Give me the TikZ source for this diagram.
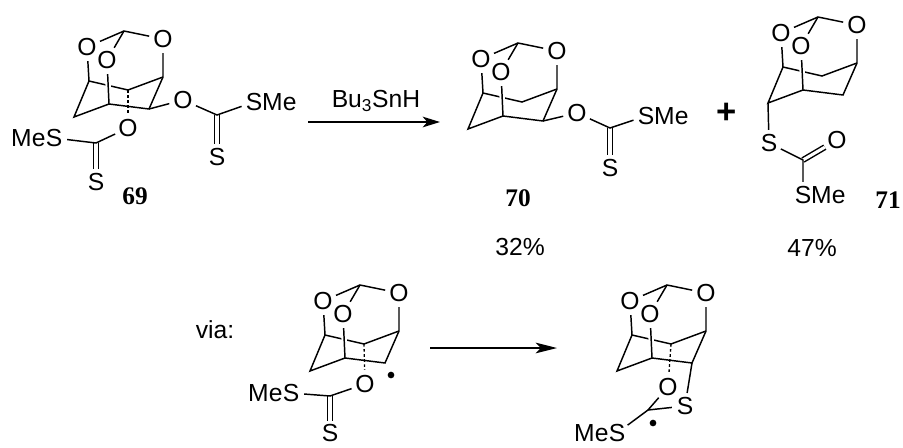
\documentclass[tikz,border=0pt]{standalone}
\usepackage{fontspec}
\usepackage{tikz}
\usetikzlibrary{arrows.meta}
\newfontfamily\sansf{Liberation Sans}
\newfontfamily\seriff{Liberation Serif}

% orthoformate cage: #1 name prefix, #2 shift
\newcommand{\cage}[2]{%
  \begin{scope}[shift={#2}]
    \node[atom] (#1ol) at (87,47) {O};
    \node[atom] (#1om) at (107,60) {O};
    \node[atom] (#1or) at (163,39) {O};
    \coordinate (#1a) at (124,31);
    \coordinate (#1cl) at (89,81);
    \coordinate (#1cb) at (128,90);
    \coordinate (#1cr) at (163,77);
    \coordinate (#1cf) at (109,104);
    \coordinate (#1bl) at (74,117);
    \coordinate (#1br) at (149,109);
  \end{scope}
  \draw[bond] (#1ol) -- (#1a) -- (#1or);
  \draw[bond] (#1a) -- (#1om);
  \draw[bond] (#1cl) -- (#1cb) -- (#1cr);
  \draw[bond, preaction={draw, white, line width=4pt}] (#1om) -- (#1cf);
  \draw[bond] (#1ol) -- (#1cl) -- (#1bl) -- (#1cf) -- (#1br) -- (#1cr) -- (#1or);
}

\begin{document}
\begin{tikzpicture}[x=0.75pt, y=-0.75pt, atom/.style={circle, inner sep=0.5pt, font=\sansf\fontsize{18.5}{20}\selectfont}, lbl/.style={inner sep=0pt, font=\sansf\fontsize{18.5}{20}\selectfont}, num/.style={font=\seriff\bfseries\fontsize{19}{20}\selectfont}, bond/.style={line width=1.1pt}, dbl/.style={bond, double, double distance=2.3pt}, hash/.style={line width=1pt, dash pattern=on 2pt off 1.8pt}, rxn/.style={-{Stealth[length=13pt, width=8pt, inset=3.5pt]}, line width=1.4pt}]
  \useasboundingbox (0,0) rectangle (903,447);

  % 69
  \cage{m69}{(0,0)}
  \node[atom] (o69a) at (128,128) {O};
  \coordinate (c69a) at (96,143);
  \node[atom] (s69a) at (54,138) {S};
  \node[lbl, anchor=base east] (me69a) at (s69a.text) {Me};
  \node[atom] (s69c) at (96,182) {S};
  \node[atom] (o69b) at (183,100) {O};
  \coordinate (c69b) at (217,115);
  \node[atom] (s69b) at (254,102) {S};
  \node[lbl, anchor=text] (me69b) at (s69b.text) {\phantom{S}Me};
  \node[atom] (s69d) at (217,157) {S};
  \draw[dbl] (c69a) -- (s69c);
  \draw[dbl] (c69b) -- (s69d);
  \draw[hash] (m69cb) -- (o69a);
  \draw[bond] (o69a) -- (c69a) -- (s69a);
  \draw[bond] (m69br) -- (o69b) -- (c69b) -- (s69b);
  \node[num] (n69) at (135,196) {69};

  % reagent arrow
  \coordinate (a1s) at (308,122);
  \coordinate (a1e) at (440,122);
  \draw[rxn] (a1s) -- (a1e);
  \node[lbl] (reag) at (376,101) {Bu\textsubscript{3}SnH};

  % 70
  \cage{m70}{(394,12)}
  \node[atom] (o70) at (577,113) {O};
  \coordinate (c70) at (610,128);
  \node[atom] (s70a) at (646,116) {S};
  \node[lbl, anchor=text] (me70) at (s70a.text) {\phantom{S}Me};
  \node[atom] (s70b) at (610,168) {S};
  \draw[dbl] (c70) -- (s70b);
  \draw[bond] (m70br) -- (o70) -- (c70) -- (s70a);
  \node[num] (n70) at (518,198) {70};
  \node[lbl] (y70) at (520,247) {32\%};

  \node[font=\sansf\bfseries\fontsize{26}{26}\selectfont] (plus) at (727,113) {+};

  % 71
  \cage{m71}{(694,-14)}
  \node[atom] (s71a) at (769,143) {S};
  \coordinate (c71) at (803,160);
  \node[atom] (o71) at (837,140) {O};
  \node[atom] (s71b) at (803,195) {S};
  \node[lbl, anchor=text] (me71) at (s71b.text) {\phantom{S}Me};
  \draw[dbl] (c71) -- (o71);
  \draw[bond] (m71bl) -- (s71a) -- (c71) -- (s71b);
  \node[num] (n71) at (888,200) {71};
  \node[lbl] (y71) at (812,248) {47\%};

  % via: radical
  \node[lbl] (via) at (215,330) {via:};
  \cage{ra}{(236,254)}
  \node[atom] (ora) at (365,384) {O};
  \coordinate (cra) at (330,396);
  \node[atom] (sra) at (291,393) {S};
  \node[lbl, anchor=base east] (mera) at (sra.text) {Me};
  \node[atom, inner sep=0pt] (sra2) at (330,433) {S};
  \draw[dbl] (cra) -- (sra2);
  \draw[hash] (racb) -- (ora);
  \draw[bond] (ora) -- (cra) -- (sra);
  \coordinate (dota) at (391,375);
  \fill (dota) circle[radius=2.5pt];

  \coordinate (a2s) at (430,348);
  \coordinate (a2e) at (557,348);
  \draw[rxn, -{Stealth[length=16pt, width=8pt, inset=4pt]}] (a2s) -- (a2e);

  % cyclised radical
  \cage{rb}{(543,254)}
  \node[atom] (orb) at (668,387) {O};
  \node[atom] (srb) at (685,406) {S};
  \coordinate (crb) at (648,410);
  \node[atom] (srb2) at (617,433) {S};
  \node[lbl, anchor=base east] (merb) at (srb2.text) {Me};
  \draw[hash] (rbcb) -- (orb);
  \draw[bond] (rbbr) -- (srb);
  \draw[bond] (orb) -- (crb) -- (srb2);
  \draw[bond] (crb) -- (srb);
  \coordinate (dotb) at (653,423);
  \fill (dotb) circle[radius=2.5pt];
\end{tikzpicture}
\end{document}
